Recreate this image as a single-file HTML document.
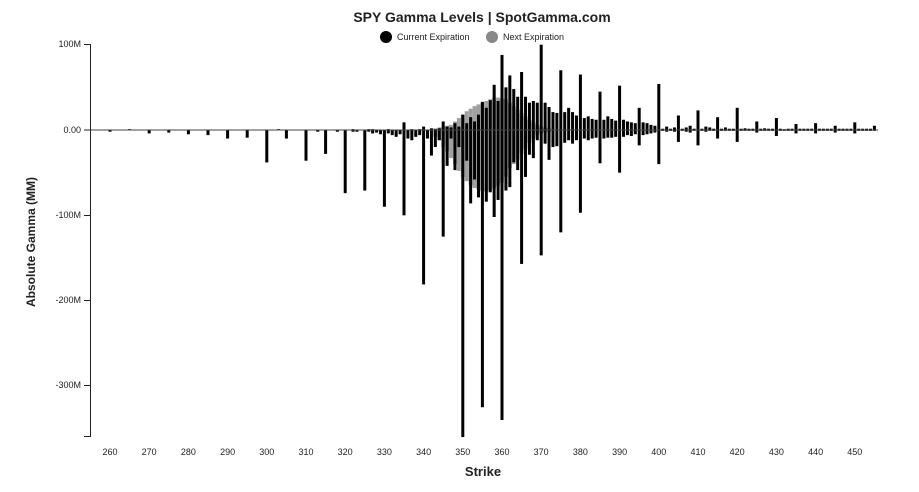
<!DOCTYPE html>
<html><head><meta charset="utf-8"><style>
html,body{margin:0;padding:0;background:#fff;}
svg{display:block;font-family:"Liberation Sans",sans-serif;}
</style></head><body>
<svg id="c" width="919" height="492" xmlns="http://www.w3.org/2000/svg">
<text x="482" y="22" text-anchor="middle" font-size="14" font-weight="bold" fill="#222">SPY Gamma Levels | SpotGamma.com</text>
<circle cx="386" cy="37" r="6" fill="#000"/>
<text x="397" y="40" font-size="9" fill="#222">Current Expiration</text>
<circle cx="492" cy="37" r="6" fill="#888"/>
<text x="503" y="40" font-size="9" fill="#222">Next Expiration</text>
<text transform="translate(35,242) rotate(-90)" text-anchor="middle" font-size="12" font-weight="bold" fill="#222">Absolute Gamma (MM)</text>
<text x="483" y="476" text-anchor="middle" font-size="13" font-weight="bold" fill="#222">Strike</text>
<g id="bars"></g>
<line x1="90" y1="130" x2="878" y2="130" stroke="#444" stroke-width="1"/>
<line x1="90.5" y1="44" x2="90.5" y2="437" stroke="#222" stroke-width="1"/>
<g stroke="#222" stroke-width="1">
<line x1="84" y1="44.5" x2="90" y2="44.5"/><line x1="84" y1="130" x2="90" y2="130"/>
<line x1="84" y1="215.5" x2="90" y2="215.5"/><line x1="84" y1="300.5" x2="90" y2="300.5"/>
<line x1="84" y1="385.5" x2="90" y2="385.5"/><line x1="84" y1="436.5" x2="90" y2="436.5"/>
</g>
<g font-size="9" fill="#222" text-anchor="end">
<text x="81" y="47">100M</text><text x="81" y="133">0.00</text>
<text x="81" y="218">-100M</text><text x="81" y="303">-200M</text><text x="81" y="388">-300M</text>
</g>
<g id="xl" font-size="9" fill="#222" text-anchor="middle"></g>
</svg>
<script>
var NS="http://www.w3.org/2000/svg";
function X(s){return 110+(s-260)*3.92;}
function Y(v){return 130-v*0.853;}
var g=document.getElementById('bars');
function bar(s,v,col,w){
  var r=document.createElementNS(NS,'rect');
  var y0=Y(0),y1=Y(v);
  r.setAttribute('x',X(s)-w/2);r.setAttribute('width',w);
  r.setAttribute('y',Math.min(y0,y1));r.setAttribute('height',Math.max(0.8,Math.abs(y1-y0)));
  r.setAttribute('fill',col);g.appendChild(r);
}
// gray (next expiration) [strike,pos,neg]
var gray=[[343,2,-8],[344,3,-12],[345,4,-20],[346,5,-25],[347,6,-33],[348,10,-40],[349,14,-48],[350,18,-55],[351,22,-60],[352,25,-65],[353,28,-68],[354,30,-70],[355,32,-72],[356,34,-72],[357,36,-70],[358,38,-68],[359,38,-65],[360,37,-62],[361,36,-55],[362,32,-45],[363,28,-40],[364,24,-35],[365,20,-28],[366,16,-22],[367,12,-15],[368,9,-10],[369,6,-6],[370,4,-4],[371,3,-3],[372,2,-2]];
gray.forEach(function(d){bar(d[0],d[1],'#a0a0a0',3.92);bar(d[0],d[2],'#a0a0a0',3.92);});
// black (current) [strike,pos,neg]
var blk=[[260,0,-2],[265,1,0],[270,0,-4],[275,0,-3],[280,0,-5],[285,0,-6],[290,0,-10],[295,0,-9],[300,0,-38],[303,1,0],[305,0,-10],[310,0,-36],[313,0,-2],[315,0,-28],[318,0,-2],[320,0,-74],[322,1,-2],[323,0,-2],[325,0,-71],[326,1,-2],[327,1,-4],[328,0,-3],[329,0,-5],[330,0,-90],[331,1,-4],[332,0,-6],[333,0,-8],[334,0,-5],[335,9,-100],[336,0,-10],[337,1,-12],[338,0,-8],[339,1,-6],[340,4,-181],[341,0,-10],[342,2,-30],[343,1,-20],[344,2,-12],[345,10,-125],[346,4,-42],[347,3,-10],[348,8,-47],[349,4,-20],[350,18,-360],[351,8,-36],[352,15,-86],[353,10,-58],[354,18,-79],[355,33,-325],[356,26,-84],[357,35,-73],[358,53,-102],[359,34,-82],[360,88,-340],[361,50,-71],[362,64,-67],[363,48,-38],[364,39,-47],[365,68,-157],[366,39,-55],[367,32,-29],[368,34,-33],[369,32,-12],[370,100,-147],[371,32,-16],[372,27,-35],[373,21,-20],[374,20,-19],[375,70,-120],[376,21,-15],[377,26,-12],[378,21,-16],[379,17,-12],[380,65,-97],[381,14,-10],[382,16,-12],[383,13,-10],[384,12,-9],[385,45,-39],[386,12,-10],[387,16,-9],[388,13,-9],[389,11,-8],[390,52,-50],[391,12,-8],[392,10,-6],[393,9,-7],[394,8,-5],[395,26,-18],[396,9,-6],[397,8,-5],[398,6,-4],[399,5,-3],[400,54,-40],[402,4,-2],[404,3,-2],[405,17,-14],[407,3,-2],[408,5,-3],[410,23,-18],[412,4,-2],[413,3,-1],[415,15,-10],[417,3,-1],[420,26,-14],[422,2,-1],[425,10,-3],[427,2,-1],[430,14,-7],[432,1,-1],[435,7,-4],[440,8,-4],[445,5,-3],[450,9,-4],[455,5,-1]];
// fill small filler bars for right side
for(var s=401;s<=455;s++){ if(!blk.some(function(d){return d[0]==s;})) blk.push([s,1.5,-1]); }
blk.forEach(function(d){ if(d[1]) bar(d[0],d[1],'#000',3); if(d[2]) bar(d[0],d[2],'#000',3);});
var xl=document.getElementById('xl');
for(var s=260;s<=450;s+=10){var t=document.createElementNS(NS,'text');t.setAttribute('x',X(s));t.setAttribute('y',455);t.textContent=s;xl.appendChild(t);}
</script>
</body></html>
